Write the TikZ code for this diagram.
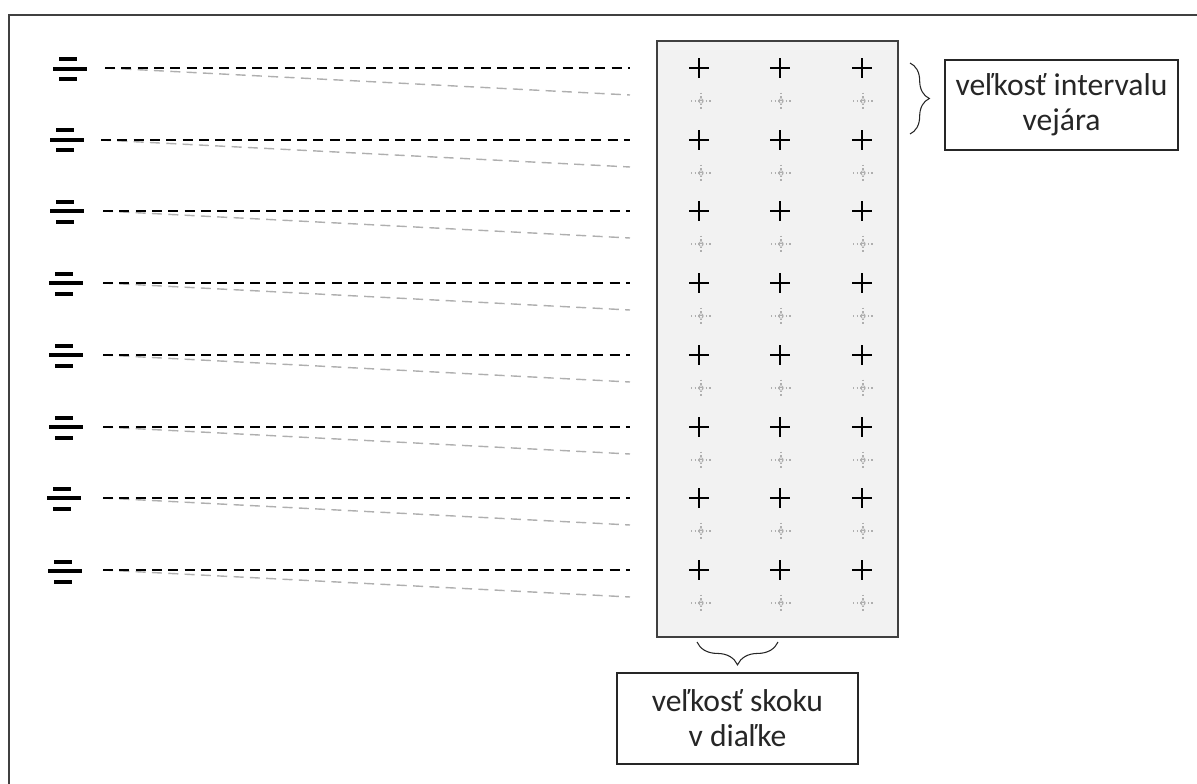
\documentclass[tikz,border=0pt]{standalone}
\usepackage{fontspec}
\setmainfont{Carlito}
\usepackage{xcolor}
\usetikzlibrary{decorations.pathreplacing}
\definecolor{frame}{RGB}{64,64,64}
\definecolor{panel}{RGB}{242,242,242}
\definecolor{echo}{RGB}{175,175,175}
\definecolor{ink}{RGB}{38,38,38}
\tikzstyle{fan}=[minimum width=0.7cm, minimum height=0.5cm, inner sep=0pt, fill=white,
  path picture={
    \fill[black] ([shift={(-11,-11.5)}]path picture bounding box.center) rectangle +(18,4);
    \fill[black] ([shift={(-17,-2)}]path picture bounding box.center) rectangle +(34,4);
    \fill[black] ([shift={(-11,8.5)}]path picture bounding box.center) rectangle +(18,4);
  }]
\tikzstyle{cross}=[minimum size=0.4cm, inner sep=0pt, fill=panel,
  path picture={
    \draw[black, line width=0.8pt] (path picture bounding box.west) -- (path picture bounding box.east)
      (path picture bounding box.north) -- (path picture bounding box.south);
  }]
\tikzstyle{ghost}=[minimum width=0.4cm, minimum height=0.34cm, inner sep=0pt, fill=panel,
  path picture={
    \draw[echo, line width=0.6pt, dash pattern=on 0.8pt off 1.3pt] (path picture bounding box.west) -- (path picture bounding box.east)
      (path picture bounding box.north) -- (path picture bounding box.south);
    \draw[echo, line width=0.4pt] (path picture bounding box.center) circle (1.3pt);
  }]
\tikzstyle{notebox}=[draw=ink, line width=0.9pt, text=ink, align=center, inner sep=0pt,
  font=\fontsize{18}{20}\selectfont]
\tikzset{ray/.style={black, line width=1pt, dash pattern=on 5.7pt off 3.6pt}}
\tikzset{echoray/.style={echo, line width=0.8pt, dash pattern=on 5.7pt off 3.6pt}}
\tikzset{curly/.style={decorate, decoration={brace, amplitude=#1}, ink, line width=0.6pt}}

\begin{document}
\begin{tikzpicture}[x=0.02cm, y=-0.02cm]
  \clip (0,0) rectangle (1197,784);
  \draw[frame, line width=1.1pt] (9,15) rectangle (1240,820);

  %% the panel
  \draw[frame, line width=1.1pt, fill=panel] (657,41) rectangle (898,637);

  \draw (70,69) node[fan] (F1) {};
  \draw (699,68) node[cross] (X11) {};
  \draw (780,68) node[cross] (X12) {};
  \draw (862,68) node[cross] (X13) {};
  \draw (701,101) node[ghost] (G11) {};
  \draw (781,101) node[ghost] (G12) {};
  \draw (863,101) node[ghost] (G13) {};
  \coordinate (A1) at (105,68); \coordinate (B1) at (630,68); \coordinate (C1) at (630,95);

  \draw (67,140) node[fan] (F2) {};
  \draw (699,140) node[cross] (X21) {};
  \draw (780,140) node[cross] (X22) {};
  \draw (862,140) node[cross] (X23) {};
  \draw (701,173) node[ghost] (G21) {};
  \draw (781,173) node[ghost] (G22) {};
  \draw (863,173) node[ghost] (G23) {};
  \coordinate (A2) at (101,140); \coordinate (B2) at (630,140); \coordinate (C2) at (630,167);

  \draw (67,211) node[fan] (F3) {};
  \draw (699,211) node[cross] (X31) {};
  \draw (780,211) node[cross] (X32) {};
  \draw (862,211) node[cross] (X33) {};
  \draw (701,244) node[ghost] (G31) {};
  \draw (781,244) node[ghost] (G32) {};
  \draw (863,244) node[ghost] (G33) {};
  \coordinate (A3) at (103,211); \coordinate (B3) at (630,211); \coordinate (C3) at (630,238);

  \draw (66,283) node[fan] (F4) {};
  \draw (699,283) node[cross] (X41) {};
  \draw (780,283) node[cross] (X42) {};
  \draw (862,283) node[cross] (X43) {};
  \draw (701,316) node[ghost] (G41) {};
  \draw (781,316) node[ghost] (G42) {};
  \draw (863,316) node[ghost] (G43) {};
  \coordinate (A4) at (103,283); \coordinate (B4) at (630,283); \coordinate (C4) at (630,310);

  \draw (66,355) node[fan] (F5) {};
  \draw (699,355) node[cross] (X51) {};
  \draw (780,355) node[cross] (X52) {};
  \draw (862,355) node[cross] (X53) {};
  \draw (701,388) node[ghost] (G51) {};
  \draw (781,388) node[ghost] (G52) {};
  \draw (863,388) node[ghost] (G53) {};
  \coordinate (A5) at (103,355); \coordinate (B5) at (630,355); \coordinate (C5) at (630,382);

  \draw (66,427) node[fan] (F6) {};
  \draw (699,427) node[cross] (X61) {};
  \draw (780,427) node[cross] (X62) {};
  \draw (862,427) node[cross] (X63) {};
  \draw (701,460) node[ghost] (G61) {};
  \draw (781,460) node[ghost] (G62) {};
  \draw (863,460) node[ghost] (G63) {};
  \coordinate (A6) at (103,427); \coordinate (B6) at (630,427); \coordinate (C6) at (630,454);

  \draw (64,498) node[fan] (F7) {};
  \draw (699,498) node[cross] (X71) {};
  \draw (780,498) node[cross] (X72) {};
  \draw (862,498) node[cross] (X73) {};
  \draw (701,531) node[ghost] (G71) {};
  \draw (781,531) node[ghost] (G72) {};
  \draw (863,531) node[ghost] (G73) {};
  \coordinate (A7) at (103,498); \coordinate (B7) at (630,498); \coordinate (C7) at (630,525);

  \draw (65,571) node[fan] (F8) {};
  \draw (699,570) node[cross] (X81) {};
  \draw (780,570) node[cross] (X82) {};
  \draw (862,570) node[cross] (X83) {};
  \draw (701,603) node[ghost] (G81) {};
  \draw (781,603) node[ghost] (G82) {};
  \draw (863,603) node[ghost] (G83) {};
  \coordinate (A8) at (103,570); \coordinate (B8) at (630,570); \coordinate (C8) at (630,597);

  %% rays
  \draw[echoray] (A1) -- (C1);
  \draw[echoray] (A2) -- (C2);
  \draw[echoray] (A3) -- (C3);
  \draw[echoray] (A4) -- (C4);
  \draw[echoray] (A5) -- (C5);
  \draw[echoray] (A6) -- (C6);
  \draw[echoray] (A7) -- (C7);
  \draw[echoray] (A8) -- (C8);

  \draw[ray] (A1) -- (B1);
  \draw[ray] (A2) -- (B2);
  \draw[ray] (A3) -- (B3);
  \draw[ray] (A4) -- (B4);
  \draw[ray] (A5) -- (B5);
  \draw[ray] (A6) -- (B6);
  \draw[ray] (A7) -- (B7);
  \draw[ray] (A8) -- (B8);

  %% Legend things
  \coordinate (R1) at (910,63); \coordinate (R2) at (910,134);
  \draw[curly=11pt] (R1) -- (R2);
  \draw (1061.5,105) node[notebox, minimum width=4.66cm, minimum height=1.8cm] (interval) {veľkosť intervalu\\vejára};

  \coordinate (S1) at (778,642); \coordinate (S2) at (697,642);
  \draw[curly=13pt] (S1) -- (S2);
  \draw (737.5,718.5) node[notebox, minimum width=4.82cm, minimum height=1.82cm] (jump) {veľkosť skoku\\v diaľke};
\end{tikzpicture}
\end{document}
